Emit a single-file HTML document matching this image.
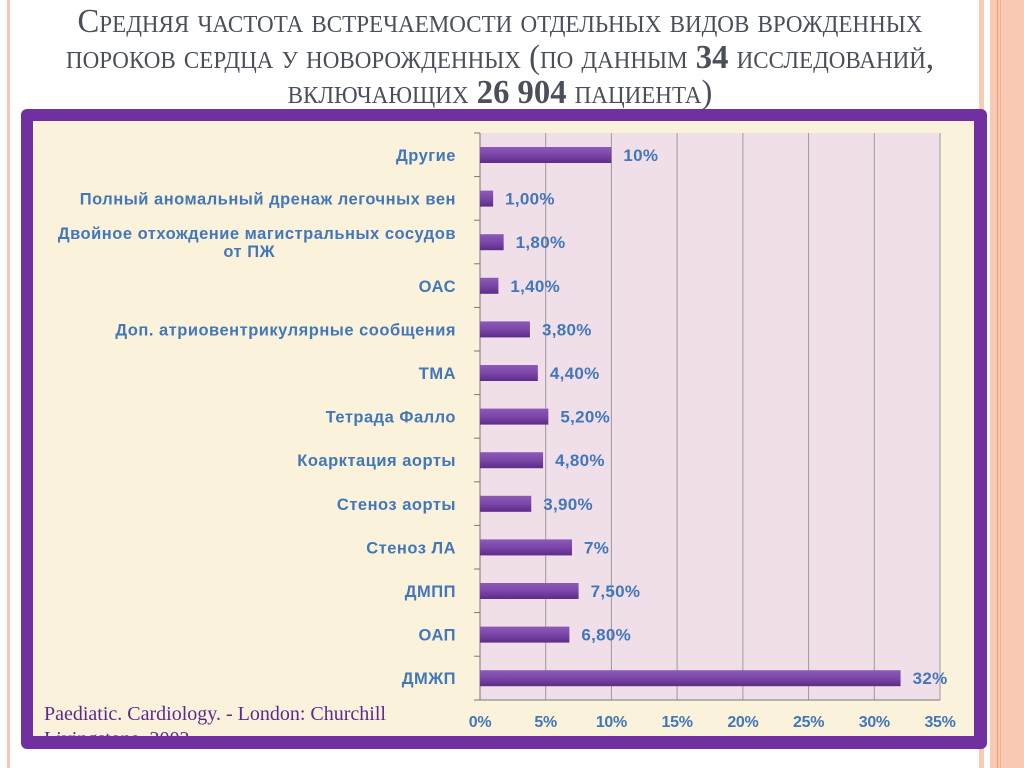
<!DOCTYPE html>
<html><head><meta charset="utf-8"><style>
body{margin:0;width:1024px;height:768px;background:#fff;position:relative;overflow:hidden;font-family:"Liberation Sans",sans-serif}
.t{position:absolute;left:0;width:1000px;text-align:center;font-family:"Liberation Serif","DejaVu Serif",serif;color:#4a4f5a;font-size:34px;font-variant:small-caps;line-height:38px;transform:scaleX(0.96);transform-origin:center;white-space:nowrap}
</style></head><body>
<div style="position:absolute;left:7px;top:0;width:3px;height:768px;background:#f7c6b3"></div>
<div style="position:absolute;left:979px;top:0;width:5px;height:768px;background:#f9c9b4"></div>
<div style="position:absolute;left:990px;top:0;width:34px;height:768px;background:#f9c9b4"></div>
<div style="position:absolute;left:997px;top:0;width:1px;height:768px;background:#f09a72"></div>
<div style="position:absolute;left:1000px;top:0;width:1px;height:768px;background:#f4ad8b"></div>
<div class="t" style="top:3px">Средняя частота встречаемости отдельных видов врожденных</div>
<div class="t" style="top:39px">пороков сердца у новорожденных (по данным <b>34</b> исследований,</div>
<div class="t" style="top:74px">включающих <b>26 904</b> пациента)</div>
<div style="position:absolute;left:21px;top:109px;width:966px;height:640px;background:#7030a0;border-radius:6px"></div>
<div style="position:absolute;left:33px;top:121px;width:941px;height:615px;background:#fbf2dc"></div>
<svg style="position:absolute;left:0;top:0" width="1024" height="768">
<rect x="480" y="133" width="460" height="567" fill="#f0dfe9"/>
<g stroke="#9a9a9a" stroke-width="1">
<line x1="545.7" y1="133" x2="545.7" y2="700"/><line x1="611.4" y1="133" x2="611.4" y2="700"/><line x1="677.1" y1="133" x2="677.1" y2="700"/><line x1="742.9" y1="133" x2="742.9" y2="700"/><line x1="808.6" y1="133" x2="808.6" y2="700"/><line x1="874.3" y1="133" x2="874.3" y2="700"/><line x1="940" y1="133" x2="940" y2="700"/>
<line x1="480" y1="133" x2="480" y2="700" stroke="#777"/><line x1="480" y1="700" x2="940" y2="700" stroke="#777"/>
</g>
<defs><linearGradient id="g" x1="0" y1="0" x2="0" y2="1"><stop offset="0" stop-color="#8d5ab8"/><stop offset="0.5" stop-color="#7a46a8"/><stop offset="1" stop-color="#5c2c88"/></linearGradient></defs>
<g id="bars"></g>
<g font-family="Liberation Sans,sans-serif" font-weight="bold" font-size="16" fill="#4277b8" text-anchor="middle" letter-spacing="-0.3">
<text x="480" y="727">0%</text><text x="545.7" y="727">5%</text><text x="611.4" y="727">10%</text><text x="677.1" y="727">15%</text><text x="742.9" y="727">20%</text><text x="808.6" y="727">25%</text><text x="874.3" y="727">30%</text><text x="940" y="727">35%</text>
</g>
</svg>
<div style="position:absolute;left:44px;top:702px;font-family:'Liberation Serif',serif;font-size:20px;color:#5b2a8a;line-height:25px;width:385px;height:34px;overflow:hidden">Paediatic. Cardiology. - London: Churchill Livingstone, 2002.</div>
<script>
var d=[["Другие",10,"10%"],["Полный аномальный дренаж легочных вен",1,"1,00%"],["Двойное отхождение магистральных сосудов|от ПЖ",1.8,"1,80%"],["ОАС",1.4,"1,40%"],["Доп. атриовентрикулярные сообщения",3.8,"3,80%"],["ТМА",4.4,"4,40%"],["Тетрада Фалло",5.2,"5,20%"],["Коарктация аорты",4.8,"4,80%"],["Стеноз аорты",3.9,"3,90%"],["Стеноз ЛА",7,"7%"],["ДМПП",7.5,"7,50%"],["ОАП",6.8,"6,80%"],["ДМЖП",32,"32%"]];
var s='',F='font-family="Liberation Sans,sans-serif" font-weight="bold" fill="#4277b8" ';
d.forEach(function(r,i){var c=155+i*43.6,w=r[1]*13.143;
s+='<line x1="474" x2="480" y1="'+(133+i*43.6)+'" y2="'+(133+i*43.6)+'" stroke="#777"/>';
s+='<rect x="480" y="'+(c-8)+'" width="'+w+'" height="16" fill="url(#g)"/>';
s+='<text x="'+(480+w+12)+'" y="'+(c+6)+'" '+F+'font-size="17" letter-spacing="0.3">'+r[2]+'</text>';
var L=r[0].split('|');
if(L.length==1)s+='<text x="456" y="'+(c+6)+'" text-anchor="end" '+F+'font-size="16.5" letter-spacing="0.5">'+L[0]+'</text>';
else{s+='<text x="456" y="'+(c-3)+'" text-anchor="end" '+F+'font-size="16.5" letter-spacing="0.5">'+L[0]+'</text>';s+='<text x="275" y="'+(c+15)+'" text-anchor="end" '+F+'font-size="16.5" letter-spacing="0.5">'+L[1]+'</text>';}
});
s+='<line x1="474" x2="480" y1="700" y2="700" stroke="#777"/>';
document.getElementById('bars').innerHTML=s;
</script>
</body></html>
